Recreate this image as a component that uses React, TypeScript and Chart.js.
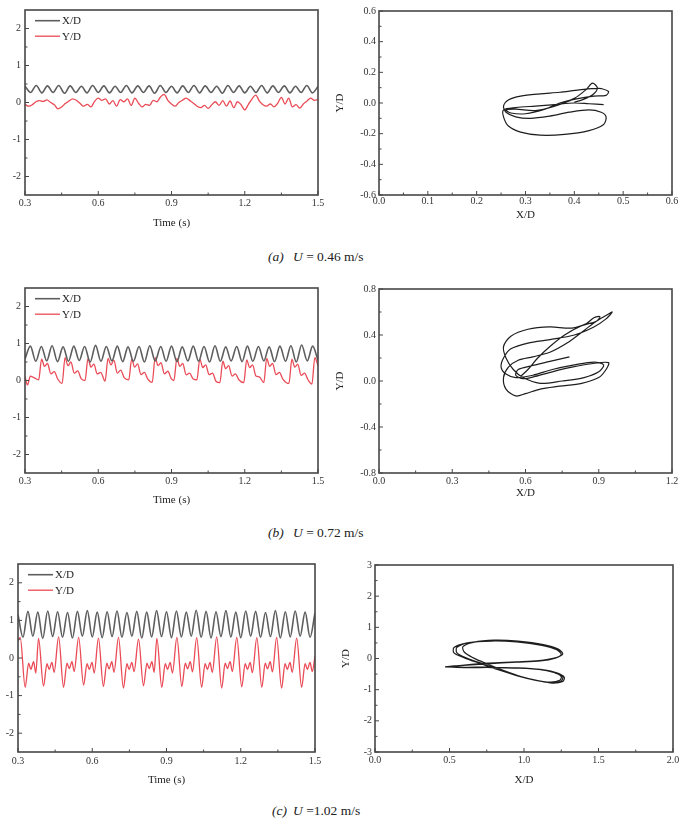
import React, { useEffect, useRef } from 'react';
import { Chart, registerables } from 'chart.js';

Chart.register(...registerables);

const SERIF = '"Liberation Serif", "Times New Roman", "DejaVu Serif", serif';
Chart.defaults.font.family = SERIF;

// ================= DATA =================
// ---- (a) U = 0.46 m/s : time histories ----
const timeA_X = [0.300,0.323,0.346,0.369,0.392,0.415,0.438,0.462,0.485,0.508,0.531,0.554,0.577,0.600,0.623,0.646,0.669,0.692,0.715,0.738,0.762,0.785,0.808,0.831,0.854,0.877,0.900,0.923,0.946,0.969,0.992,1.015,1.038,1.062,1.085,1.108,1.131,1.154,1.177,1.200,1.223,1.246,1.269,1.292,1.315,1.338,1.362,1.385,1.408,1.431,1.454,1.477,1.500];
const xdA = [0.44,0.27,0.46,0.26,0.45,0.27,0.46,0.25,0.45,0.27,
  0.44,0.26,0.46,0.27,0.45,0.26,0.44,0.27,0.46,0.26,
  0.45,0.27,0.45,0.25,0.46,0.27,0.44,0.26,0.45,0.27,
  0.46,0.26,0.45,0.27,0.44,0.25,0.46,0.27,0.45,0.26,
  0.44,0.27,0.46,0.26,0.45,0.27,0.45,0.26,0.44,0.27,
  0.46,0.26,0.43];
const timeA_Y = [0.300,0.315,0.330,0.345,0.360,0.375,0.390,0.405,0.420,0.435,0.450,0.465,0.480,0.495,0.510,0.525,0.540,0.555,0.570,0.585,0.600,0.615,0.630,0.645,0.660,0.675,0.690,0.705,0.720,0.735,0.750,0.765,0.780,0.795,0.810,0.825,0.840,0.855,0.870,0.885,0.900,0.915,0.930,0.945,0.960,0.975,0.990,1.005,1.020,1.035,1.050,1.065,1.080,1.095,1.110,1.125,1.140,1.155,1.170,1.185,1.200,1.215,1.230,1.245,1.260,1.275,1.290,1.305,1.320,1.335,1.350,1.365,1.380,1.395,1.410,1.425,1.440,1.455,1.470,1.485,1.500];
const ydA = [-0.05,-0.10,-0.06,0.02,0.05,0.03,0.07,0.00,-0.06,-0.17,
  -0.12,-0.03,0.04,0.10,0.06,-0.02,-0.10,-0.05,-0.12,0.03,
  0.12,0.06,0.10,-0.04,0.05,-0.10,0.08,0.02,0.10,-0.08,
  0.12,-0.02,-0.12,-0.05,-0.08,0.06,0.02,0.15,0.22,0.06,
  -0.04,-0.10,0.00,0.06,0.12,0.05,-0.02,-0.10,-0.14,-0.08,
  -0.16,-0.06,0.02,-0.08,0.05,-0.10,0.04,-0.14,0.02,-0.06,
  -0.20,-0.05,0.10,0.20,0.04,-0.06,-0.10,-0.04,-0.12,-0.02,
  0.14,-0.04,0.12,-0.12,-0.06,-0.15,-0.04,0.04,0.12,0.06,
  0.08];
// ---- (a) trajectory ----
const orbitA_X = [0.46,0.43,0.40,0.36,0.32,0.28,0.255,0.255,0.265,0.29,0.33,0.38,0.43,0.46,0.465,0.455,0.43,0.39,0.35,0.31,0.28,0.26,0.255,0.265,0.29,0.33,0.37,0.41,0.45,0.47,0.465,0.44,0.41,0.37,0.34,0.30,0.27,0.26,0.28,0.32,0.36,0.40,0.425,0.437,0.447,0.44,0.42,0.40];
const orbitA_Y = [-0.01,-0.005,0.00,-0.01,-0.02,-0.03,-0.045,-0.09,-0.15,-0.19,-0.21,-0.205,-0.18,-0.14,-0.09,-0.06,-0.045,-0.06,-0.085,-0.10,-0.09,-0.06,-0.02,0.02,0.045,0.06,0.07,0.085,0.095,0.075,0.05,0.045,0.03,0.00,-0.04,-0.07,-0.065,-0.045,-0.04,-0.05,-0.02,0.03,0.09,0.13,0.10,0.06,0.025,0.005];

// ---- (b) U = 0.72 m/s : time histories ----
const timeB_X = [0.300,0.322,0.344,0.367,0.389,0.411,0.433,0.456,0.478,0.500,0.522,0.544,0.567,0.589,0.611,0.633,0.656,0.678,0.700,0.722,0.744,0.767,0.789,0.811,0.833,0.856,0.878,0.900,0.922,0.944,0.967,0.989,1.011,1.033,1.056,1.078,1.100,1.122,1.144,1.167,1.189,1.211,1.233,1.256,1.278,1.300,1.322,1.344,1.367,1.389,1.411,1.433,1.456,1.478,1.500];
const xdB = [0.58,0.93,0.52,0.92,0.53,0.94,0.51,0.91,0.52,0.93,
  0.54,0.92,0.50,0.95,0.52,0.92,0.53,0.93,0.51,0.91,
  0.52,0.92,0.50,0.94,0.53,0.92,0.52,0.93,0.51,0.91,
  0.53,0.93,0.52,0.92,0.50,0.94,0.52,0.91,0.53,0.92,
  0.51,0.93,0.52,0.92,0.53,0.91,0.51,0.93,0.52,0.94,
  0.50,0.96,0.53,0.93,0.55];
const timeB_Y = [0.300,0.310,0.322,0.336,0.356,0.368,0.380,0.392,0.406,0.420,0.434,0.452,0.464,0.476,0.488,0.502,0.516,0.530,0.546,0.558,0.570,0.582,0.596,0.610,0.628,0.640,0.652,0.664,0.678,0.692,0.706,0.725,0.737,0.749,0.761,0.775,0.789,0.803,0.821,0.833,0.845,0.857,0.871,0.885,0.899,0.910,0.922,0.934,0.946,0.960,0.974,0.988,1.004,1.016,1.028,1.040,1.054,1.068,1.082,1.098,1.110,1.122,1.134,1.148,1.162,1.176,1.196,1.208,1.220,1.232,1.246,1.260,1.278,1.290,1.302,1.314,1.328,1.342,1.356,1.381,1.393,1.405,1.417,1.431,1.445,1.459,1.475,1.487,1.500];
const ydB = [0.10,-0.12,0.12,0.08,0.02,0.58,0.38,0.46,0.18,0.24,
  0.04,-0.08,0.62,0.40,0.50,0.20,0.26,0.05,0.00,0.60,
  0.36,0.44,0.18,0.22,-0.02,0.60,0.42,0.55,0.20,0.28,
  0.08,0.02,0.58,0.36,0.45,0.16,0.22,0.04,-0.05,0.62,
  0.40,0.48,0.18,0.25,0.05,0.00,0.60,0.38,0.46,0.15,
  0.20,0.05,0.02,0.58,0.35,0.42,0.16,0.20,-0.02,-0.06,
  0.52,0.32,0.40,0.12,0.18,0.02,-0.06,0.56,0.35,0.42,
  0.12,0.10,-0.06,0.60,0.38,0.46,0.16,0.22,0.04,-0.08,
  0.58,0.36,0.44,0.14,0.20,0.02,-0.10,0.62,0.40];
// ---- (b) trajectory ----
const orbitB_X = [0.78,0.70,0.62,0.57,0.56,0.59,0.64,0.71,0.79,0.87,0.94,0.93,0.90,0.83,0.74,0.66,0.60,0.56,0.52,0.51,0.53,0.57,0.63,0.70,0.77,0.84,0.89,0.93,0.955,0.93,0.88,0.80,0.70,0.61,0.54,0.51,0.50,0.52,0.56,0.63,0.71,0.80,0.88,0.92,0.90,0.84,0.75,0.66,0.59,0.55,0.52,0.51,0.54,0.61,0.70,0.79,0.85,0.88,0.905,0.89,0.83,0.76,0.70,0.65,0.61,0.58];
const orbitB_Y = [0.21,0.17,0.13,0.10,0.05,0.02,0.04,0.08,0.12,0.15,0.16,0.10,0.03,-0.02,-0.045,-0.07,-0.11,-0.13,-0.07,0.03,0.12,0.18,0.21,0.25,0.33,0.44,0.52,0.57,0.60,0.54,0.47,0.40,0.36,0.33,0.28,0.20,0.12,0.06,0.03,0.05,0.10,0.14,0.165,0.14,0.08,0.03,0.00,-0.02,0.03,0.10,0.20,0.30,0.39,0.45,0.47,0.46,0.50,0.55,0.56,0.52,0.48,0.40,0.30,0.20,0.10,0.04];

// ---- (c) U = 1.02 m/s : time histories ----
const timeC_X = [0.30,0.32,0.34,0.36,0.38,0.40,0.42,0.44,0.46,0.48,0.50,0.52,0.54,0.56,0.58,0.60,0.62,0.64,0.66,0.68,0.70,0.72,0.74,0.76,0.78,0.80,0.82,0.84,0.86,0.88,0.90,0.92,0.94,0.96,0.98,1.00,1.02,1.04,1.06,1.08,1.10,1.12,1.14,1.16,1.18,1.20,1.22,1.24,1.26,1.28,1.30,1.32,1.34,1.36,1.38,1.40,1.42,1.44,1.46,1.48,1.50];
const xdC = [1.15,0.55,1.24,0.58,1.22,0.52,1.25,0.57,1.23,0.55,
  1.21,0.53,1.24,0.58,1.26,0.56,1.22,0.54,1.23,0.57,
  1.25,0.55,1.21,0.58,1.24,0.53,1.22,0.56,1.26,0.57,
  1.23,0.54,1.25,0.56,1.22,0.58,1.27,0.55,1.24,0.53,
  1.23,0.57,1.26,0.56,1.22,0.54,1.25,0.58,1.24,0.55,
  1.21,0.57,1.26,0.53,1.23,0.56,1.25,0.58,1.22,0.55,
  1.20];
const timeC_Y = [0.300,0.309,0.329,0.343,0.352,0.363,0.372,0.383,0.403,0.417,0.426,0.437,0.446,0.464,0.484,0.498,0.507,0.518,0.527,0.545,0.565,0.579,0.588,0.599,0.608,0.625,0.645,0.659,0.668,0.679,0.688,0.706,0.726,0.740,0.749,0.760,0.769,0.787,0.807,0.821,0.830,0.841,0.850,0.861,0.881,0.895,0.904,0.915,0.924,0.942,0.962,0.976,0.985,0.996,1.005,1.022,1.042,1.056,1.065,1.076,1.085,1.103,1.123,1.137,1.146,1.157,1.166,1.184,1.204,1.218,1.227,1.238,1.247,1.265,1.285,1.299,1.308,1.319,1.328,1.345,1.365,1.379,1.388,1.399,1.408,1.426,1.446,1.460,1.469,1.480,1.489,1.500];
const ydC = [0.45,
  0.55,-0.78,-0.14,-0.30,-0.10,-0.40,
  0.52,-0.75,-0.15,-0.30,-0.12,-0.38,
  0.56,-0.78,-0.14,-0.28,-0.10,-0.36,
  0.55,-0.72,-0.15,-0.30,-0.12,-0.40,
  0.53,-0.76,-0.14,-0.29,-0.10,-0.38,
  0.55,-0.80,-0.15,-0.30,-0.12,-0.36,
  0.50,-0.74,-0.14,-0.28,-0.10,-0.38,
  0.52,-0.78,-0.15,-0.30,-0.12,-0.40,
  0.55,-0.76,-0.14,-0.29,-0.10,-0.37,
  0.54,-0.78,-0.15,-0.30,-0.12,-0.38,
  0.56,-0.80,-0.14,-0.28,-0.10,-0.36,
  0.55,-0.77,-0.15,-0.30,-0.12,-0.39,
  0.54,-0.78,-0.14,-0.29,-0.10,-0.37,
  0.55,-0.80,-0.15,-0.30,-0.12,-0.38,
  0.53,-0.78,-0.15,-0.30,-0.12,-0.36,
  0.05];
// ---- (c) trajectory ----
const orbitC_X = [0.47,0.58,0.75,0.95,1.10,1.20,1.25,1.22,1.12,0.95,0.78,0.62,0.53,0.53,0.60,0.70,0.82,0.95,1.08,1.18,1.24,1.25,1.20,1.10,0.95,0.78,0.60,
  0.48,0.60,0.76,0.95,1.10,1.21,1.26,1.23,1.13,0.96,0.80,0.66,0.59,0.60,0.66,0.75,0.86,0.98,1.10,1.19,1.26,1.27,1.22,1.12,0.96,0.78,0.60,
  0.49,0.59,0.75,0.95,1.11,1.21,1.25,1.22,1.12,0.95,0.78,0.63,0.55,0.55,0.62,0.72,0.84,0.97,1.09,1.18,1.25,1.26,1.21,1.11,0.95,0.77,0.60,0.47];
const orbitC_Y = [-0.27,-0.22,-0.16,-0.12,-0.08,0.00,0.12,0.28,0.42,0.53,0.56,0.50,0.35,0.18,0.02,-0.15,-0.35,-0.55,-0.70,-0.76,-0.70,-0.58,-0.45,-0.35,-0.30,-0.28,-0.28,
  -0.27,-0.21,-0.15,-0.11,-0.07,0.02,0.14,0.30,0.45,0.56,0.59,0.52,0.38,0.20,0.02,-0.17,-0.38,-0.58,-0.72,-0.79,-0.74,-0.60,-0.46,-0.36,-0.31,-0.29,-0.29,
  -0.26,-0.22,-0.17,-0.12,-0.08,0.01,0.13,0.29,0.43,0.54,0.57,0.51,0.36,0.18,0.01,-0.16,-0.37,-0.57,-0.71,-0.77,-0.72,-0.59,-0.45,-0.35,-0.30,-0.28,-0.28,-0.27];

// ---- tick labels ----
const timeTicks = [0.3, 0.6, 0.9, 1.2, 1.5];
const dispTicks = [-2, -1, 0, 1, 2];
const orbitA_xTicks = [0, 0.1, 0.2, 0.3, 0.4, 0.5, 0.6];
const orbitA_yTicks = [-0.6, -0.4, -0.2, 0, 0.2, 0.4, 0.6];
const orbitB_xTicks = [0, 0.3, 0.6, 0.9, 1.2];
const orbitB_yTicks = [-0.8, -0.4, 0, 0.4, 0.8];
const orbitC_xTicks = [0, 0.5, 1, 1.5, 2];
const orbitC_yTicks = [-3, -2, -1, 0, 1, 2, 3];

const seriesNames = ['X/D', 'Y/D'];

// ================= STYLE / LAYOUT =================
const GRAY = '#5e5e5e';
const RED = '#ea4b56';
const BLACK = '#1e1e1e';

const zip = (xs: number[], ys: number[]) => xs.map((x, i) => ({ x, y: ys[i] }));

const timeSets = (tx: number[], x: number[], ty: number[], y: number[]) => [
  { label: seriesNames[0], data: zip(tx, x), borderColor: GRAY, borderWidth: 1.6, cubicInterpolationMode: 'monotone', pointRadius: 0 },
  { label: seriesNames[1], data: zip(ty, y), borderColor: RED, borderWidth: 1.3, cubicInterpolationMode: 'monotone', pointRadius: 0 },
];
const orbitSet = (x: number[], y: number[]) => [
  { label: 'orbit', data: zip(x, y), borderColor: BLACK, borderWidth: 1.2, showLine: true, tension: 0.3, pointRadius: 0 },
];

const panels: any[] = [
  { id: 'aL', type: 'line', box: [0, 0, 330, 230], area: [25, 10, 318, 195], x: [0.3, 1.5, timeTicks, 1, 'Time (s)', 2], y: [-2.5, 2.5, dispTicks, 0, null, 4], legend: true, datasets: timeSets(timeA_X, xdA, timeA_Y, ydA) },
  { id: 'aR', type: 'scatter', box: [334, 0, 361, 222], area: [379, 11, 672, 195], x: [0, 0.6, orbitA_xTicks, 1, 'X/D', 0], y: [-0.6, 0.6, orbitA_yTicks, 1, 'Y/D', 3], legend: false, datasets: orbitSet(orbitA_X, orbitA_Y) },
  { id: 'bL', type: 'line', box: [0, 278, 330, 229], area: [25, 288, 318, 473], x: [0.3, 1.5, timeTicks, 1, 'Time (s)', 2], y: [-2.5, 2.5, dispTicks, 0, null, 4], legend: true, datasets: timeSets(timeB_X, xdB, timeB_Y, ydB) },
  { id: 'bR', type: 'scatter', box: [334, 279, 361, 221], area: [379, 289, 672, 473], x: [0, 1.2, orbitB_xTicks, 1, 'X/D', 2], y: [-0.8, 0.8, orbitB_yTicks, 1, 'Y/D', 3], legend: false, datasets: orbitSet(orbitB_X, orbitB_Y) },
  { id: 'cL', type: 'line', box: [0, 554, 330, 233], area: [18, 564, 315, 752], x: [0.3, 1.5, timeTicks, 1, 'Time (s)', 3], y: [-2.5, 2.5, dispTicks, 0, null, 4], legend: true, datasets: timeSets(timeC_X, xdC, timeC_Y, ydC) },
  { id: 'cR', type: 'scatter', box: [340, 555, 355, 232], area: [375, 565, 673, 752], x: [0, 2, orbitC_xTicks, 1, 'X/D', 2], y: [-3, 3, orbitC_yTicks, 0, 'Y/D', 3], legend: false, datasets: orbitSet(orbitC_X, orbitC_Y) },
];

const framePlugin = {
  id: 'frameTicks',
  afterDatasetsDraw(chart: any) {
    const { ctx, chartArea: a, scales } = chart;
    ctx.save();
    ctx.strokeStyle = '#474747';
    ctx.lineWidth = 1;
    ctx.beginPath();
    const xs = scales.x;
    const xv = xs.ticks.map((t: any) => t.value);
    xv.forEach((v: number, i: number) => {
      const p = xs.getPixelForValue(v);
      ctx.moveTo(p, a.bottom); ctx.lineTo(p, a.bottom - 4);
      if (i < xv.length - 1) {
        const m = (xs.getPixelForValue(v) + xs.getPixelForValue(xv[i + 1])) / 2;
        ctx.moveTo(m, a.bottom); ctx.lineTo(m, a.bottom - 2.5);
      }
    });
    const ys = scales.y;
    const yv = ys.ticks.map((t: any) => t.value);
    yv.forEach((v: number, i: number) => {
      const p = ys.getPixelForValue(v);
      ctx.moveTo(a.left, p); ctx.lineTo(a.left + 4, p);
      if (i < yv.length - 1) {
        const m = (ys.getPixelForValue(v) + ys.getPixelForValue(yv[i + 1])) / 2;
        ctx.moveTo(a.left, m); ctx.lineTo(a.left + 2.5, m);
      }
    });
    ctx.stroke();
    ctx.lineWidth = 1.6;
    ctx.strokeRect(a.left, a.top, a.right - a.left, a.bottom - a.top);
    ctx.restore();
  },
};

const legendPlugin = {
  id: 'insideLegend',
  afterDraw(chart: any) {
    const { ctx, chartArea: a } = chart;
    ctx.save();
    chart.data.datasets.forEach((ds: any, i: number) => {
      const y = a.top + 10.7 + i * 15.5;
      ctx.strokeStyle = ds.borderColor;
      ctx.lineWidth = ds.borderWidth;
      ctx.beginPath();
      ctx.moveTo(a.left + 10, y);
      ctx.lineTo(a.left + 35, y);
      ctx.stroke();
      ctx.fillStyle = '#222';
      ctx.font = `11px ${SERIF}`;
      ctx.textBaseline = 'middle';
      ctx.textAlign = 'left';
      ctx.fillText(ds.label, a.left + 37, y + 0.5);
    });
    ctx.restore();
  },
};

function axis(spec: any[], horizontal: boolean, size: number) {
  const [min, max, ticks, dec, title, pad] = spec;
  return {
    type: 'linear',
    min,
    max,
    afterBuildTicks: (s: any) => { s.ticks = ticks.map((v: number) => ({ value: v })); },
    afterFit: (s: any) => { if (horizontal) s.height = size; else s.width = size; },
    grid: { display: false, drawTicks: false },
    border: { display: false },
    ticks: {
      autoSkip: false,
      maxRotation: 0,
      padding: pad,
      color: '#333',
      font: { size: 10, family: SERIF },
      callback: (v: any) => Number(v).toFixed(dec),
    },
    title: {
      display: !!title,
      text: title || '',
      color: '#222',
      font: { size: 11, family: SERIF },
      padding: { top: 0, bottom: 0 },
    },
  };
}

function Panel({ cfg }: { cfg: any }) {
  const ref = useRef<HTMLCanvasElement>(null);
  const [x0, y0, w, h] = cfg.box;
  useEffect(() => {
    const [L, T, R, B] = cfg.area;
    const chart = new Chart(ref.current as HTMLCanvasElement, {
      type: cfg.type,
      data: { datasets: cfg.datasets },
      options: {
        responsive: false,
        animation: false,
        devicePixelRatio: 1,
        events: [],
        layout: { padding: { left: 0, top: T - y0, right: x0 + w - R, bottom: 0 } },
        plugins: { legend: { display: false }, tooltip: { enabled: false } },
        scales: {
          x: axis(cfg.x, true, y0 + h - B),
          y: axis(cfg.y, false, L - x0),
        },
      } as any,
      plugins: cfg.legend ? [framePlugin, legendPlugin] : [framePlugin],
    } as any);
    return () => chart.destroy();
  }, []);
  return (
    <canvas
      ref={ref}
      width={w}
      height={h}
      style={{ position: 'absolute', left: x0, top: y0, width: w, height: h }}
    />
  );
}

const captions = [
  { tag: 'a', speed: 'U = 0.46 m/s', cy: 257, tagX: 268 },
  { tag: 'b', speed: 'U = 0.72 m/s', cy: 533, tagX: 268 },
  { tag: 'c', speed: 'U =1.02 m/s', cy: 811, tagX: 272 },
];

export default function App() {
  return (
    <div
      style={{
        position: 'absolute', left: 0, top: 0, width: 680, height: 825,
        overflow: 'hidden', background: '#fff', fontFamily: SERIF, color: '#222',
      }}
    >
      {panels.map((p) => <Panel key={p.id} cfg={p} />)}
      {captions.map((c) => (
        <React.Fragment key={c.tag}>
          <span style={{ position: 'absolute', left: c.tagX, top: c.cy - 8, fontSize: 13.5, lineHeight: '16px', fontStyle: 'italic', whiteSpace: 'nowrap' }}>
            ({c.tag})
          </span>
          <span style={{ position: 'absolute', left: 293, top: c.cy - 8, fontSize: 13.5, lineHeight: '16px', whiteSpace: 'nowrap' }}>
            <i>U</i>{c.speed.slice(1)}
          </span>
        </React.Fragment>
      ))}
    </div>
  );
}
